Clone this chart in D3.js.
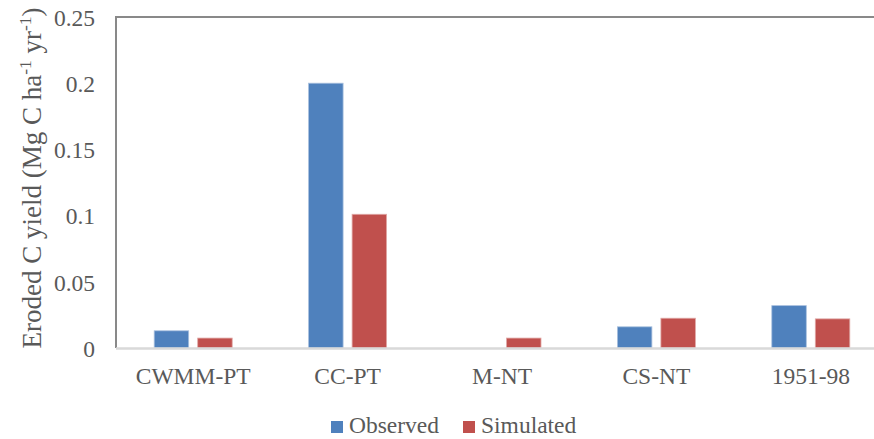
<!DOCTYPE html>
<html>
<head>
<meta charset="utf-8">
<script src="https://cdn.jsdelivr.net/npm/d3@7"></script>
<style>
  html, body { margin: 0; padding: 0; background: #fff; }
  svg { display: block; }
</style>
</head>
<body>
<svg id="chart" width="874" height="439"></svg>
<script>
// Eroded carbon yield per site / period
const categories = ["CWMM-PT", "CC-PT", "M-NT", "CS-NT", "1951-98"];
const observed   = [0.013, 0.200, null, 0.016, 0.032];
const simulated  = [0.0075, 0.101, 0.0075, 0.0225, 0.022];
const seriesNames = ["Observed", "Simulated"];
const yTicks = [0, 0.05, 0.1, 0.15, 0.2, 0.25];

const FONT = '"Liberation Serif"';
const TEXT_COLOR = "#595959";
const colors = { Observed: "#4f81bd", Simulated: "#c0504d" };
const strokes = { Observed: "#a9c0de", Simulated: "#e0a9a7" };

const svg = d3.select("#chart");
const margin = { left: 116, top: 17, bottom: 348, right: 888 };

const x = d3.scaleBand().domain(categories).range([margin.left, margin.right]).paddingInner(0).paddingOuter(0);
const xs = d3.scaleBand().domain(seriesNames).range([0, x.bandwidth()]).paddingInner(0.207).paddingOuter(0.878);
const y = d3.scaleLinear().domain([0, 0.25]).range([margin.bottom, margin.top]);

// frame: top and left edges
svg.append("line").attr("x1", margin.left).attr("x2", 874).attr("y1", margin.top).attr("y2", margin.top)
  .attr("stroke", "#898989").attr("stroke-width", 2);
svg.append("line").attr("x1", margin.left).attr("x2", margin.left).attr("y1", margin.top - 1).attr("y2", margin.bottom)
  .attr("stroke", "#898989").attr("stroke-width", 2);

// bars
const rows = categories.map((c, i) => ({ cat: c, Observed: observed[i], Simulated: simulated[i] }));
const groups = svg.append("g").selectAll("g").data(rows).join("g")
  .attr("transform", d => `translate(${x(d.cat)},0)`);
groups.selectAll("rect")
  .data(d => seriesNames.filter(s => d[s] != null).map(s => ({ s, v: d[s] })))
  .join("rect")
  .attr("x", d => xs(d.s))
  .attr("width", xs.bandwidth())
  .attr("y", d => y(d.v))
  .attr("height", d => y(0) - y(d.v))
  .attr("fill", d => colors[d.s])
  .attr("stroke", d => strokes[d.s])
  .attr("stroke-width", 0.8);

// x axis baseline
svg.append("line").attr("x1", margin.left).attr("x2", 874).attr("y1", y(0) + 0.5).attr("y2", y(0) + 0.5)
  .attr("stroke", "#d9d9d9").attr("stroke-width", 2.5);

// y axis tick labels
const yAxis = svg.append("g").attr("transform", `translate(${95},0)`)
  .call(d3.axisLeft(y).tickValues(yTicks).tickSize(0).tickPadding(0).tickFormat(d => d3.format("")(d)));
yAxis.select(".domain").remove();
yAxis.selectAll("text")
  .style("font-family", FONT).style("fill", TEXT_COLOR)
  .style("font-size", "23.5px").attr("dy", "0.35em");

// x axis category labels
const xAxis = svg.append("g").attr("transform", `translate(0,${384})`)
  .call(d3.axisBottom(x).tickSize(0).tickPadding(0));
xAxis.select(".domain").remove();
xAxis.selectAll("text")
  .style("font-family", FONT).style("fill", TEXT_COLOR)
  .style("font-size", "23.5px").attr("dy", 0);

// y axis title with superscript exponents
const title = svg.append("text")
  .attr("transform", `translate(41,${178}) rotate(-90)`)
  .attr("text-anchor", "middle")
  .style("font-family", FONT).style("fill", TEXT_COLOR).style("font-size", "27px");
title.append("tspan").text("Eroded C yield (Mg C ha");
title.append("tspan").attr("dy", -10).style("font-size", "17.5px").text("-1");
title.append("tspan").attr("dy", 10).text(" yr");
title.append("tspan").attr("dy", -10).style("font-size", "17.5px").text("-1");
title.append("tspan").attr("dy", 10).text(")");

// legend
const legend = svg.append("g").attr("transform", "translate(331,421)");
const items = [{ s: "Observed", dx: 0 }, { s: "Simulated", dx: 132 }];
items.forEach(it => {
  const g = legend.append("g").attr("transform", `translate(${it.dx},0)`);
  g.append("rect").attr("width", 12).attr("height", 12).attr("fill", colors[it.s]);
  g.append("text").attr("x", 18).attr("y", 12)
    .style("font-family", FONT).style("fill", TEXT_COLOR).style("font-size", "23.5px")
    .text(it.s);
});
</script>
</body>
</html>
